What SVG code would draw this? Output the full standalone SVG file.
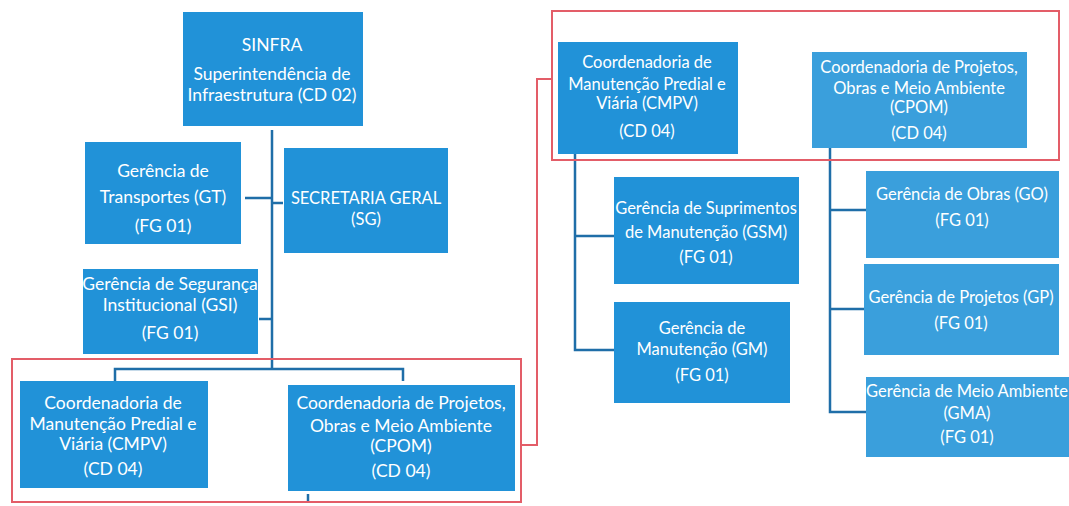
<svg xmlns="http://www.w3.org/2000/svg" width="1069" height="506" viewBox="0 0 1069 506">
<style>
.n{fill:#2192d8}
.n2{fill:#3a9fdc}
.t{font-family:Lato,"Open Sans",sans-serif;font-size:17.5px;fill:#ffffff;text-anchor:middle}
.s{font-size:16.5px}
.c{stroke:#1f6ea8;stroke-width:2.5;fill:none}
.r{stroke:#e35d68;stroke-width:2;fill:none}
</style>
<rect width="1069" height="506" fill="#ffffff"/>
<g id="connectors">
<path class="c" d="M272 130 V369 M115 381 V369 H403 V381 M245 198 H272 M272 203 H283 M259 319 H272"/>
<path class="c" d="M308 494 V501"/>
<path class="c" d="M575 153 V350 H614 M575 236 H614"/>
<path class="c" d="M830 148 V412 H866 M830 210 H866 M830 309 H864"/>
<path class="r" d="M521 445 H537 V79 H552"/>
</g>
<g id="frame-left"><rect class="r" x="12" y="359" width="509" height="143"/></g>
<g id="frame-right"><rect class="r" x="552" y="11" width="507" height="149"/></g>
<g id="sinfra"><rect class="n" x="183" y="12" width="180" height="114"/>
<text class="t" x="272" y="51">SINFRA</text>
<text class="t" x="272" y="80">Superintendência de</text>
<text class="t" x="272" y="101">Infraestrutura (CD 02)</text></g>
<g id="gt"><rect class="n" x="85" y="142" width="156" height="102"/>
<text class="t" x="163" y="177">Gerência de</text>
<text class="t" x="163" y="203">Transportes (GT)</text>
<text class="t" x="163" y="232">(FG 01)</text></g>
<g id="sg"><rect class="n" x="284" y="148" width="164" height="105"/>
<text class="t s" x="366" y="204">SECRETARIA GERAL</text>
<text class="t s" x="366" y="225">(SG)</text></g>
<g id="gsi"><rect class="n" x="83" y="269" width="175" height="85"/>
<text class="t" x="170" y="290">Gerência de Segurança</text>
<text class="t" x="170" y="311">Institucional (GSI)</text>
<text class="t" x="170" y="339">(FG 01)</text></g>
<g id="cmpv-left"><rect class="n" x="20" y="381" width="188" height="107"/>
<text class="t" x="113" y="409">Coordenadoria de</text>
<text class="t" x="113" y="430">Manutenção Predial e</text>
<text class="t" x="113" y="450">Viária (CMPV)</text>
<text class="t" x="113" y="475">(CD 04)</text></g>
<g id="cpom-left"><rect class="n" x="288" y="385" width="227" height="106"/>
<text class="t" x="401" y="409">Coordenadoria de Projetos,</text>
<text class="t" x="401" y="432">Obras e Meio Ambiente</text>
<text class="t" x="401" y="452">(CPOM)</text>
<text class="t" x="401" y="477">(CD 04)</text></g>
<g id="cmpv-right"><rect class="n" x="558" y="42" width="180" height="112"/>
<text class="t s" x="647" y="68">Coordenadoria de</text>
<text class="t s" x="647" y="90">Manutenção Predial e</text>
<text class="t s" x="647" y="109">Viária (CMPV)</text>
<text class="t s" x="647" y="137">(CD 04)</text></g>
<g id="cpom-right"><rect class="n2" x="812" y="52" width="215" height="96"/>
<text class="t s" x="919" y="73">Coordenadoria de Projetos,</text>
<text class="t s" x="919" y="94">Obras e Meio Ambiente</text>
<text class="t s" x="919" y="113">(CPOM)</text>
<text class="t s" x="919" y="139">(CD 04)</text></g>
<g id="gsm"><rect class="n" x="614" y="177" width="185" height="107"/>
<text class="t s" x="706" y="214">Gerência de Suprimentos</text>
<text class="t s" x="706" y="238">de Manutenção (GSM)</text>
<text class="t s" x="706" y="263">(FG 01)</text></g>
<g id="gm"><rect class="n" x="614" y="302" width="176" height="101"/>
<text class="t s" x="702" y="334">Gerência de</text>
<text class="t s" x="702" y="355">Manutenção (GM)</text>
<text class="t s" x="702" y="381">(FG 01)</text></g>
<g id="go"><rect class="n2" x="866" y="171" width="193" height="87"/>
<text class="t s" x="962" y="200">Gerência de Obras (GO)</text>
<text class="t s" x="962" y="226">(FG 01)</text></g>
<g id="gp"><rect class="n2" x="864" y="264" width="195" height="91"/>
<text class="t s" x="961" y="303">Gerência de Projetos (GP)</text>
<text class="t s" x="961" y="329">(FG 01)</text></g>
<g id="gma"><rect class="n2" x="866" y="377" width="203" height="80"/>
<text class="t s" x="967" y="397">Gerência de Meio Ambiente</text>
<text class="t s" x="967" y="419">(GMA)</text>
<text class="t s" x="967" y="443">(FG 01)</text></g>
</svg>
